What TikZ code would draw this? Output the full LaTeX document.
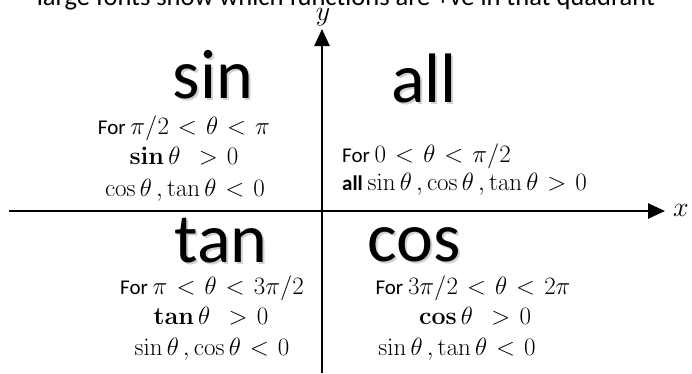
\RequirePackage{fix-cm}
\documentclass[tikz,border=0pt]{standalone}
\usepackage{amsmath}
\usepackage[no-math]{fontspec}
\setmainfont{Carlito}
\DeclareMathSizes{21}{25}{18}{14}
\thickmuskip=6.5mu plus 5mu\relax
\usetikzlibrary{arrows.meta}

\begin{document}
\begin{tikzpicture}[x=1pt,y=-1pt,line join=round,
  axis/.style={line width=2.6pt,-{Triangle[length=17pt,width=15pt]}},
  bigword/.style={font=\fontsize{70}{70}\selectfont,anchor=base,inner sep=0pt},
  bigshade/.style={bigword,text=black,opacity=0.18},
  info/.style={font=\fontsize{21}{26}\selectfont,anchor=base,inner sep=0pt}]
  \useasboundingbox (0,0) rectangle (692,373);
  % heading, cut by the top edge
  \node[font=\fontsize{26.5}{30}\selectfont,anchor=base,inner sep=0pt] (head) at (346,5)
    {large fonts show which functions are +ve in that quadrant};
  % axes
  \coordinate (xstart) at (9,211);
  \coordinate (xend) at (665,211);
  \coordinate (ystart) at (322,373);
  \coordinate (yend) at (322,29);
  \draw[axis] (xstart) -- (xend);
  \draw[axis] (ystart) -- (yend);
  \node[font=\fontsize{28}{28}\selectfont] (xlab) at (681,210) {$x$};
  \node[font=\fontsize{28}{28}\selectfont] (ylab) at (323,17) {$y$};
  % large words (with a soft shadow)
  \node[bigshade] at (215,100) {sin};
  \node[bigword] (wsin) at (213,98) {sin};
  \node[bigshade] at (426,104) {all};
  \node[bigword] (wall) at (424,102) {all};
  \node[bigshade] at (223,264) {tan};
  \node[bigword] (wtan) at (221,262) {tan};
  \node[bigshade] at (416,263) {cos};
  \node[bigword] (wcos) at (414,261) {cos};
  % second quadrant
  \node[info] (sinA) at (184,134) {For $\pi/2<\theta<\pi$};
  \node[info] (sinB) at (184,164) {$\mathbf{sin}\,\theta\ \ >0$};
  \node[info] (sinC) at (185,196) {$\cos\theta\,,\tan\theta<0$};
  % first quadrant
  \node[info,anchor=base west] (allA) at (342,162) {For $0<\theta<\pi/2$};
  \node[info,anchor=base west] (allB) at (342,190) {\textbf{all} $\sin\theta\,,\cos\theta\,,\tan\theta>0$};
  % third quadrant
  \node[info] (tanA) at (212,294) {For $\pi<\theta<3\pi/2$};
  \node[info] (tanB) at (211,324) {$\mathbf{tan}\,\theta\ \ >0$};
  \node[info] (tanC) at (212,355) {$\sin\theta\,,\cos\theta<0$};
  % fourth quadrant
  \node[info] (cosA) at (473,294) {For $3\pi/2<\theta<2\pi$};
  \node[info] (cosB) at (475,324) {$\mathbf{cos}\,\theta\ \ >0$};
  \node[info] (cosC) at (457,355) {$\sin\theta\,,\tan\theta<0$};
\end{tikzpicture}
\end{document}
